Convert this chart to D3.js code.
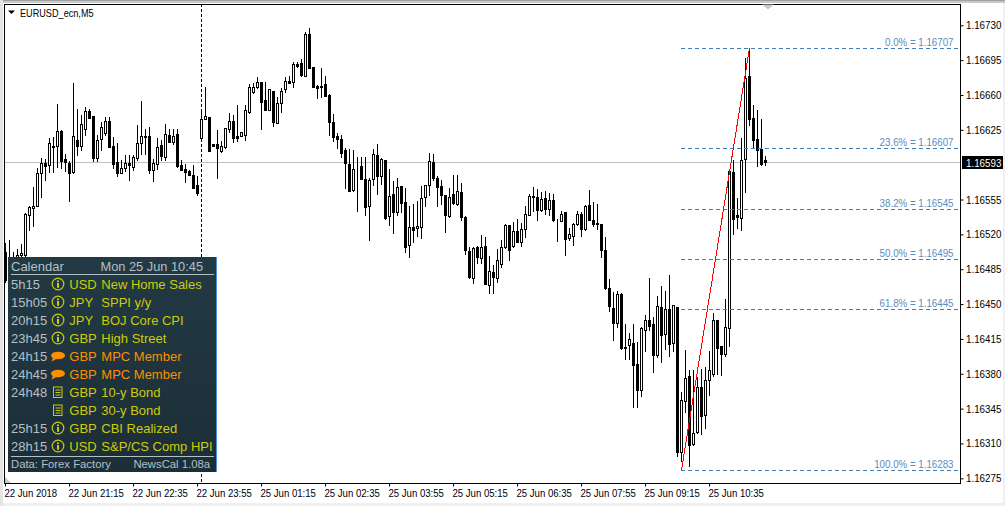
<!DOCTYPE html>
<html><head><meta charset="utf-8">
<script src="https://cdn.jsdelivr.net/npm/d3@7"></script>
<style>html,body{margin:0;padding:0;background:#fff;overflow:hidden}svg{display:block}text{font-family:"Liberation Sans",Arial,sans-serif}</style>
</head><body><svg id="c" width="1005" height="506"></svg>
<script>
const symbol="EURUSD_ecn,M5";
const opens=[1.16502,1.16482,1.16488,1.16492,1.16499,1.16499,1.16539,1.16546,1.16549,1.16582,1.16592,1.16590,1.16609,1.16609,1.16624,1.16596,1.16592,1.16583,1.16615,1.16609,1.16626,1.16644,1.16639,1.16597,1.16616,1.16622,1.16634,1.16609,1.16593,1.16582,1.16587,1.16592,1.16588,1.16597,1.16612,1.16619,1.16619,1.16585,1.16591,1.16610,1.16598,1.16620,1.16613,1.16621,1.16590,1.16586,1.16584,1.16580,1.16570,1.16617,1.16636,1.16638,1.16611,1.16611,1.16604,1.16608,1.16626,1.16634,1.16619,1.16619,1.16620,1.16643,1.16663,1.16668,1.16673,1.16655,1.16645,1.16664,1.16632,1.16652,1.16666,1.16674,1.16673,1.16691,1.16692,1.16679,1.16721,1.16688,1.16669,1.16669,1.16671,1.16660,1.16633,1.16619,1.16616,1.16605,1.16591,1.16565,1.16586,1.16589,1.16576,1.16548,1.16576,1.16600,1.16579,1.16595,1.16538,1.16561,1.16542,1.16569,1.16553,1.16509,1.16527,1.16526,1.16527,1.16558,1.16570,1.16593,1.16577,1.16569,1.16560,1.16538,1.16561,1.16551,1.16563,1.16537,1.16503,1.16476,1.16507,1.16496,1.16508,1.16469,1.16482,1.16476,1.16490,1.16507,1.16529,1.16508,1.16523,1.16512,1.16525,1.16539,1.16559,1.16558,1.16544,1.16557,1.16545,1.16555,1.16534,1.16533,1.16542,1.16516,1.16518,1.16530,1.16540,1.16525,1.16550,1.16534,1.16531,1.16530,1.16504,1.16466,1.16446,1.16431,1.16460,1.16407,1.16409,1.16411,1.16390,1.16364,1.16424,1.16434,1.16430,1.16399,1.16447,1.16420,1.16445,1.16411,1.16447,1.16301,1.16353,1.16378,1.16309,1.16322,1.16367,1.16339,1.16374,1.16380,1.16434,1.16408,1.16400,1.16426,1.16583,1.16539,1.16536,1.16596,1.16679,1.16637,1.16616,1.16606,1.16595];
const highs=[1.16511,1.16514,1.16502,1.16505,1.16510,1.16541,1.16549,1.16568,1.16587,1.16597,1.16596,1.16617,1.16618,1.16651,1.16625,1.16601,1.16594,1.16672,1.16646,1.16640,1.16648,1.16646,1.16639,1.16620,1.16633,1.16638,1.16638,1.16618,1.16612,1.16595,1.16600,1.16600,1.16600,1.16630,1.16654,1.16626,1.16628,1.16596,1.16617,1.16615,1.16631,1.16626,1.16626,1.16626,1.16595,1.16591,1.16585,1.16590,1.16579,1.16643,1.16668,1.16638,1.16611,1.16625,1.16614,1.16627,1.16642,1.16640,1.16650,1.16623,1.16650,1.16671,1.16672,1.16678,1.16673,1.16673,1.16666,1.16664,1.16658,1.16667,1.16678,1.16679,1.16693,1.16693,1.16696,1.16723,1.16727,1.16688,1.16670,1.16687,1.16679,1.16661,1.16641,1.16622,1.16620,1.16607,1.16606,1.16605,1.16598,1.16598,1.16598,1.16577,1.16606,1.16611,1.16597,1.16595,1.16586,1.16574,1.16577,1.16569,1.16567,1.16548,1.16551,1.16554,1.16569,1.16570,1.16602,1.16601,1.16579,1.16575,1.16560,1.16567,1.16580,1.16580,1.16572,1.16538,1.16507,1.16507,1.16508,1.16519,1.16517,1.16498,1.16489,1.16505,1.16514,1.16530,1.16529,1.16532,1.16535,1.16531,1.16548,1.16561,1.16568,1.16566,1.16563,1.16564,1.16562,1.16561,1.16535,1.16543,1.16542,1.16526,1.16531,1.16543,1.16542,1.16550,1.16565,1.16553,1.16551,1.16530,1.16517,1.16475,1.16462,1.16463,1.16461,1.16430,1.16421,1.16430,1.16412,1.16427,1.16439,1.16476,1.16437,1.16458,1.16468,1.16463,1.16479,1.16449,1.16447,1.16362,1.16404,1.16384,1.16384,1.16377,1.16385,1.16387,1.16403,1.16441,1.16434,1.16408,1.16455,1.16586,1.16595,1.16557,1.16617,1.16697,1.16706,1.16650,1.16645,1.16636,1.16599];
const lows=[1.16472,1.16469,1.16484,1.16488,1.16492,1.16497,1.16524,1.16528,1.16548,1.16558,1.16575,1.16583,1.16583,1.16588,1.16587,1.16584,1.16554,1.16582,1.16600,1.16605,1.16620,1.16637,1.16594,1.16594,1.16605,1.16620,1.16608,1.16587,1.16579,1.16582,1.16584,1.16575,1.16585,1.16595,1.16601,1.16601,1.16582,1.16574,1.16586,1.16595,1.16595,1.16613,1.16611,1.16588,1.16585,1.16573,1.16580,1.16567,1.16560,1.16616,1.16636,1.16604,1.16609,1.16577,1.16603,1.16607,1.16623,1.16613,1.16614,1.16619,1.16615,1.16642,1.16662,1.16667,1.16626,1.16645,1.16645,1.16629,1.16632,1.16643,1.16663,1.16672,1.16668,1.16688,1.16679,1.16679,1.16687,1.16668,1.16657,1.16658,1.16659,1.16620,1.16614,1.16607,1.16598,1.16567,1.16564,1.16564,1.16543,1.16576,1.16539,1.16514,1.16570,1.16561,1.16571,1.16535,1.16529,1.16521,1.16539,1.16542,1.16502,1.16497,1.16512,1.16518,1.16516,1.16549,1.16560,1.16575,1.16548,1.16551,1.16522,1.16537,1.16551,1.16550,1.16534,1.16500,1.16476,1.16471,1.16491,1.16491,1.16470,1.16461,1.16461,1.16472,1.16487,1.16506,1.16494,1.16507,1.16512,1.16508,1.16517,1.16539,1.16543,1.16534,1.16543,1.16540,1.16539,1.16533,1.16513,1.16533,1.16499,1.16514,1.16509,1.16529,1.16518,1.16524,1.16534,1.16528,1.16525,1.16497,1.16465,1.16443,1.16414,1.16427,1.16405,1.16395,1.16395,1.16347,1.16347,1.16358,1.16403,1.16424,1.16382,1.16397,1.16392,1.16405,1.16398,1.16403,1.16297,1.16292,1.16342,1.16287,1.16308,1.16321,1.16319,1.16326,1.16359,1.16378,1.16380,1.16379,1.16398,1.16408,1.16520,1.16526,1.16524,1.16563,1.16630,1.16608,1.16589,1.16590,1.16590];
const closes=[1.16474,1.16492,1.16496,1.16499,1.16501,1.16540,1.16547,1.16549,1.16582,1.16592,1.16589,1.16612,1.16608,1.16624,1.16594,1.16593,1.16582,1.16619,1.16609,1.16631,1.16644,1.16637,1.16597,1.16615,1.16628,1.16634,1.16608,1.16591,1.16582,1.16587,1.16592,1.16590,1.16598,1.16612,1.16619,1.16618,1.16585,1.16592,1.16608,1.16599,1.16621,1.16613,1.16619,1.16589,1.16585,1.16583,1.16580,1.16567,1.16562,1.16636,1.16639,1.16604,1.16609,1.16607,1.16609,1.16627,1.16634,1.16617,1.16617,1.16623,1.16645,1.16668,1.16668,1.16673,1.16653,1.16645,1.16666,1.16633,1.16652,1.16664,1.16674,1.16672,1.16691,1.16689,1.16680,1.16721,1.16687,1.16668,1.16667,1.16668,1.16659,1.16633,1.16618,1.16616,1.16602,1.16592,1.16564,1.16586,1.16586,1.16576,1.16547,1.16575,1.16601,1.16579,1.16596,1.16536,1.16559,1.16542,1.16568,1.16552,1.16507,1.16527,1.16524,1.16528,1.16557,1.16570,1.16594,1.16577,1.16568,1.16560,1.16539,1.16558,1.16552,1.16564,1.16537,1.16504,1.16477,1.16506,1.16497,1.16507,1.16470,1.16483,1.16477,1.16494,1.16507,1.16529,1.16504,1.16523,1.16512,1.16525,1.16540,1.16559,1.16558,1.16544,1.16556,1.16545,1.16555,1.16534,1.16534,1.16540,1.16515,1.16520,1.16530,1.16540,1.16525,1.16548,1.16534,1.16530,1.16530,1.16504,1.16466,1.16448,1.16431,1.16460,1.16406,1.16406,1.16415,1.16389,1.16364,1.16426,1.16434,1.16428,1.16399,1.16448,1.16419,1.16445,1.16410,1.16449,1.16301,1.16354,1.16376,1.16308,1.16320,1.16367,1.16338,1.16374,1.16384,1.16434,1.16406,1.16400,1.16427,1.16584,1.16535,1.16537,1.16595,1.16677,1.16636,1.16615,1.16605,1.16591,1.16593];
const timeTicks=[[0,"22 Jun 2018"],[16,"22 Jun 21:15"],[32,"22 Jun 22:35"],[48,"22 Jun 23:55"],[64,"25 Jun 01:15"],[80,"25 Jun 02:35"],[96,"25 Jun 03:55"],[112,"25 Jun 05:15"],[128,"25 Jun 06:35"],[144,"25 Jun 07:55"],[160,"25 Jun 09:15"],[176,"25 Jun 10:35"]];
const priceTicks=[1.16730,1.16695,1.16660,1.16625,1.16555,1.16520,1.16485,1.16450,1.16415,1.16380,1.16345,1.16310,1.16275];
const currentPrice=1.16593;
const fibNames=["0.0%","23.6%","38.2%","50.0%","61.8%","100.0%"];
const fibPrices=[1.16707,1.16607,1.16545,1.16495,1.16445,1.16283];
const fibFromBar=169, fibToBar=186, crossBar=49;
const calTimes=["5h15","15h05","20h15","23h45","24h15","24h45","24h48","","25h15","28h15"];
const calIcons=["i","i","i","i","b","b","d","d","i","i"];
const calCur=["USD","JPY","JPY","GBP","GBP","GBP","GBP","GBP","GBP","USD"];
const calEvents=["New Home Sales","SPPI y/y","BOJ Core CPI","High Street","MPC Member","MPC Member","10-y Bond","30-y Bond","CBI Realized","S&P/CS Comp HPI"];

const L=5,R=960,T=4,B=483;
const svg=d3.select("#c");
const x=d3.scaleLinear().domain([0,1]).range([5,9]);
const y=d3.scaleLinear().domain([1.16275,1.16730]).range([478.3,25.3]);
const sy=v=>Math.round(y(v));
const px=i=>Math.round(x(i))+0.5;
const squeeze=(sel,f)=>sel.each(function(){const l=this.getComputedTextLength();this.setAttribute("textLength",l*f);this.setAttribute("lengthAdjust","spacingAndGlyphs");});

// window chrome
svg.append("rect").attr("width",1005).attr("height",506).attr("fill","#f0f0f0");
svg.append("rect").attr("x",3).attr("y",3).attr("width",1000).attr("height",500).attr("fill","#fff");
svg.append("rect").attr("width",1005).attr("height",1).attr("fill","#a0a0a0");
svg.append("rect").attr("y",1).attr("width",1005).attr("height",2).attr("fill","#c8c8c8");
svg.append("rect").attr("width",3).attr("height",506).attr("fill","#e4e4e4");

// current price line
svg.append("line").attr("x1",L).attr("x2",R).attr("y1",sy(currentPrice)+.5).attr("y2",sy(currentPrice)+.5).attr("stroke","#c0c0c0");

// crosshair
svg.append("line").attr("x1",px(crossBar)).attr("x2",px(crossBar)).attr("y1",T).attr("y2",B).attr("stroke","#000").attr("stroke-dasharray","3,2");

// candles
const bars=d3.range(opens.length);
const g=svg.append("g").attr("class","candles");
g.selectAll("line.w").data(bars).join("line").attr("class","w")
 .attr("x1",px).attr("x2",px).attr("y1",i=>sy(highs[i])).attr("y2",i=>sy(lows[i])+1).attr("stroke","#000");
g.selectAll("rect.b").data(bars).join("rect").attr("class","b")
 .attr("x",i=>px(i)-1).attr("width",2)
 .attr("y",i=>sy(Math.max(opens[i],closes[i]))+.5)
 .attr("height",i=>Math.max(0,sy(Math.min(opens[i],closes[i]))-sy(Math.max(opens[i],closes[i]))))
 .attr("fill",i=>closes[i]>=opens[i]?"#fff":"#000").attr("stroke","#000");

// fibo
const fib=svg.append("g");
fib.selectAll("line").data(fibPrices).join("line")
 .attr("x1",px(fibFromBar)-.5).attr("x2",R).attr("y1",d=>sy(d)+.5).attr("y2",d=>sy(d)+.5)
 .attr("stroke","#3f7fb5").attr("stroke-dasharray","4,3");
fib.selectAll("text").data(fibPrices).join("text")
 .attr("x",953.5).attr("y",d=>sy(d)-2).attr("text-anchor","end")
 .attr("font-size",11).attr("fill","#5a8cc0")
 .text((d,i)=>fibNames[i]+" = "+d.toFixed(5)).call(squeeze,.885);
svg.append("line").attr("x1",px(fibFromBar)).attr("y1",sy(fibPrices[5])).attr("x2",px(fibToBar)).attr("y2",sy(fibPrices[0]))
 .attr("stroke","#ff0000").attr("shape-rendering","crispEdges");

// frame
svg.append("rect").attr("x",4.5).attr("y",4.5).attr("width",956).attr("height",479).attr("fill","none").attr("stroke","#000");

// axes
const ay=svg.append("g").attr("transform","translate(960.5,0)").call(d3.axisRight(y).tickValues(priceTicks).tickSize(3).tickFormat(d3.format(".5f")));
ay.select(".domain").remove();
ay.selectAll("text").attr("x",5.5).attr("font-size",11).attr("fill","#000").style("font-family",'"Liberation Sans",sans-serif').call(squeeze,.89);
const ax=svg.append("g").attr("transform","translate(0,483.5)").call(d3.axisBottom(x).tickValues(timeTicks.map(d=>d[0])).tickSize(3).tickFormat((d,i)=>timeTicks[i][1]));
ax.select(".domain").remove();
ax.selectAll("text").attr("text-anchor","start").attr("x",-1).attr("y",5.5).attr("font-size",11).attr("fill","#000").style("font-family",'"Liberation Sans",sans-serif').call(squeeze,.87);

// current price tag
svg.append("rect").attr("x",962).attr("y",sy(currentPrice)-6).attr("width",41).attr("height",13).attr("fill","#000");
svg.append("text").attr("x",966).attr("y",sy(currentPrice)+4.5).attr("font-size",11).attr("fill","#fff").text(currentPrice.toFixed(5)).call(squeeze,.89);

// title and markers
svg.append("path").attr("d","M8 10.5h7l-3.5 3.5z").attr("fill","#000");
svg.append("text").attr("x",20).attr("y",16.5).attr("font-size",11).attr("fill","#000").text(symbol).call(squeeze,.83);
svg.append("path").attr("d","M762 4.5h12l-6 5z").attr("fill","#c8c8c8");
svg.append("path").attr("d","M5 483v-6l6 6z").attr("fill","#c8c8c8");

// calendar panel
const defs=svg.append("defs");
const gr=defs.append("linearGradient").attr("id","pg").attr("x1",0).attr("x2",0).attr("y1",0).attr("y2",1);
gr.append("stop").attr("offset",0).attr("stop-color","#223a44");
gr.append("stop").attr("offset",1).attr("stop-color","#1c2e38");
const p=svg.append("g").style("font-family",'"Liberation Sans",sans-serif');
p.append("rect").attr("x",8).attr("y",257).attr("width",208).attr("height",215).attr("fill","url(#pg)");
p.append("rect").attr("x",216).attr("y",257).attr("width",1).attr("height",215).attr("fill","#4a90d0");
const G="#b4c0c4",Y="#cccc0a",O="#fa9000",FS=13;
p.append("text").attr("x",11).attr("y",271).attr("font-size",FS).attr("fill",G).text("Calendar");
p.append("text").attr("x",203).attr("y",271).attr("text-anchor","end").attr("font-size",12.8).attr("fill",G).text("Mon 25 Jun 10:45");
p.append("line").attr("x1",11).attr("x2",214).attr("y1",274.5).attr("y2",274.5).attr("stroke","#b4c0c4");
p.append("line").attr("x1",11).attr("x2",214).attr("y1",456.5).attr("y2",456.5).attr("stroke","#b4c0c4");
p.append("text").attr("x",11).attr("y",468).attr("font-size",11.3).attr("fill",G).text("Data: Forex Factory");
p.append("text").attr("x",210).attr("y",468).attr("text-anchor","end").attr("font-size",11.3).attr("fill",G).text("NewsCal 1.08a");
calEvents.forEach((e,i)=>{
  const by=288.5+18*i, cy=by-4.5, col=calIcons[i]==="b"?O:Y;
  p.append("text").attr("x",11).attr("y",by).attr("font-size",FS).attr("fill",G).text(calTimes[i]);
  p.append("text").attr("x",69.3).attr("y",by).attr("font-size",FS).attr("fill",col).text(calCur[i]);
  p.append("text").attr("x",101.3).attr("y",by).attr("font-size",FS).attr("fill",col).text(e);
  if(calIcons[i]==="i"){
    p.append("circle").attr("cx",58).attr("cy",cy).attr("r",5.8).attr("fill","none").attr("stroke",Y).attr("stroke-width",1.2);
    p.append("rect").attr("x",57).attr("y",cy-3.5).attr("width",2).attr("height",1.6).attr("fill",Y);
    p.append("rect").attr("x",57).attr("y",cy-1).attr("width",2).attr("height",4.8).attr("fill",Y);
  } else if(calIcons[i]==="b"){
    p.append("ellipse").attr("cx",58).attr("cy",cy-.5).attr("rx",7).attr("ry",3.8).attr("fill",O);
    p.append("path").attr("d",`M53 ${cy+1.5}l-1.5 4l5-2.5z`).attr("fill",O);
  } else {
    p.append("rect").attr("x",53.5).attr("y",cy-5).attr("width",8.5).attr("height",10.5).attr("fill","none").attr("stroke",Y);
    [-2,0.5,3].forEach(d=>p.append("line").attr("x1",55.5).attr("x2",60.5).attr("y1",cy+d).attr("y2",cy+d).attr("stroke",Y));
  }
});
</script></body></html>
